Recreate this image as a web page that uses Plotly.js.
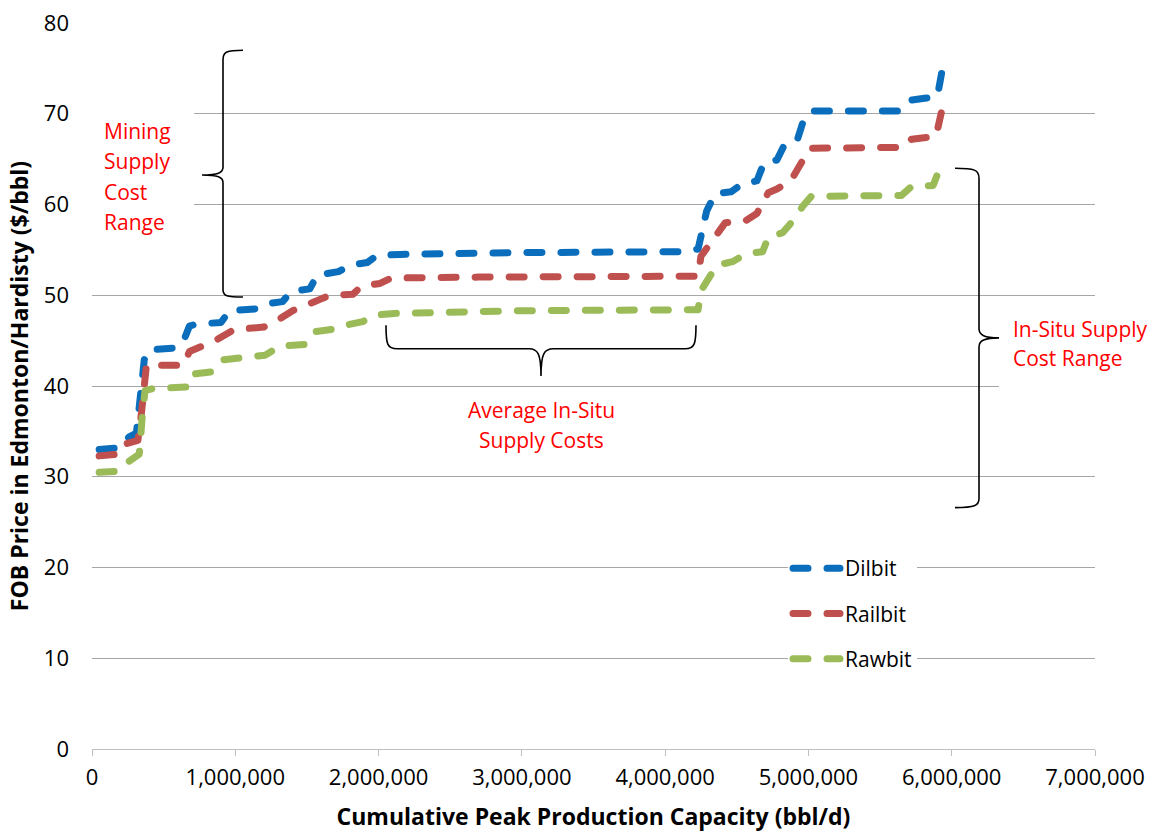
<!DOCTYPE html>
<html>
<head>
<meta charset="utf-8">
<script src="https://cdn.plot.ly/plotly-3.0.1.min.js"></script>
<style>
  html, body { margin: 0; padding: 0; background: #fff; }
  #chart { width: 1149px; height: 833px; }
  /* rounded dash ends, as in the original supply-cost curves */
  path.js-line { stroke-linecap: round; stroke-linejoin: round; }
</style>
</head>
<body>
<div id="chart"></div>
<script>
// Cumulative peak production capacity (bbl/d) and FOB price ($/bbl) per blend
const capacityDilbit = [50000, 190000, 220000, 260000, 310000, 340000, 365000, 400000, 590000, 640000, 680000, 720000, 900000, 960000, 1140000, 1200000, 1330000, 1390000, 1520000, 1570000, 1720000, 1800000, 1920000, 1990000, 2150000, 3000000, 4150000, 4230000, 4260000, 4290000, 4350000, 4460000, 4540000, 4640000, 4690000, 4780000, 4830000, 4920000, 4970000, 5020000, 5640000, 5720000, 5810000, 5900000, 5930000];
const priceDilbit = [33.0, 33.2, 33.8, 34.4, 34.8, 39.5, 42.9, 44.0, 44.2, 45.0, 46.6, 46.8, 47.0, 48.3, 48.5, 49.0, 49.3, 50.4, 50.7, 52.2, 52.6, 53.3, 53.6, 54.4, 54.5, 54.7, 54.8, 55.1, 57.5, 59.3, 61.2, 61.4, 62.3, 62.6, 64.6, 64.9, 66.5, 67.0, 69.5, 70.3, 70.3, 71.5, 71.7, 71.9, 74.5];

const capacityRailbit = [50000, 190000, 230000, 320000, 345000, 380000, 640000, 680000, 770000, 860000, 990000, 1200000, 1290000, 1400000, 1600000, 1660000, 1820000, 1880000, 2010000, 2090000, 2700000, 4200000, 4230000, 4250000, 4370000, 4420000, 4560000, 4640000, 4720000, 4780000, 4880000, 4930000, 5010000, 5660000, 5720000, 5890000, 5930000];
const priceRailbit = [32.3, 32.5, 33.6, 34.0, 37.0, 42.3, 42.3, 43.8, 44.4, 45.0, 46.2, 46.5, 47.2, 48.3, 49.6, 50.0, 50.1, 51.0, 51.3, 51.9, 52.0, 52.0, 52.1, 54.3, 56.9, 58.0, 58.2, 59.0, 61.3, 61.7, 62.7, 64.2, 66.2, 66.3, 67.2, 67.5, 70.3];

const capacityRawbit = [50000, 180000, 250000, 330000, 350000, 370000, 420000, 670000, 700000, 850000, 920000, 1050000, 1210000, 1310000, 1500000, 1560000, 1700000, 1770000, 1890000, 1970000, 2110000, 3000000, 4230000, 4250000, 4300000, 4360000, 4470000, 4570000, 4680000, 4720000, 4820000, 4870000, 4960000, 5020000, 5650000, 5720000, 5870000, 5930000];
const priceRawbit = [30.5, 30.6, 31.6, 32.5, 36.5, 39.5, 39.7, 39.9, 41.3, 41.6, 42.9, 43.1, 43.4, 44.4, 44.6, 46.0, 46.3, 46.7, 47.1, 47.8, 48.0, 48.3, 48.4, 50.5, 51.9, 53.3, 53.7, 54.6, 54.8, 56.4, 56.9, 57.8, 59.8, 60.9, 61.0, 62.0, 62.1, 64.5];

const seriesNames = ['Dilbit', 'Railbit', 'Rawbit'];
const seriesColors = ['#0A6EBD', '#C0504D', '#9BBB59'];

const xTicks = [0, 1000000, 2000000, 3000000, 4000000, 5000000, 6000000, 7000000];
const yTicks = [0, 10, 20, 30, 40, 50, 60, 70, 80];

const FONT = 'Open Sans, Noto Sans, Liberation Sans, sans-serif';
const RED = '#FF0000';

const xs = [capacityDilbit, capacityRailbit, capacityRawbit];
const ys = [priceDilbit, priceRailbit, priceRawbit];

const traces = seriesNames.map((name, i) => ({
  type: 'scatter',
  mode: 'lines',
  name: name,
  legendgroup: name,
  x: xs[i],
  y: ys[i],
  line: { color: seriesColors[i], width: 7, dash: '15px,19px' },
  hoverinfo: 'skip'
}));

// Curly brace outlines, in data coordinates
const braceMining = 'M 1053800,77.0 C 940000,77.0 914300,76.8 914300,76.0 ' +
  'L 914300,64.1 C 914300,63.5 880000,63.25 767700,63.25 ' +
  'C 880000,63.25 914300,63.0 914300,62.4 L 914300,50.6 ' +
  'C 914300,49.9 940000,49.8 1053800,49.8';
const braceAverage = 'M 2051800,46.7 C 2051800,44.6 2060000,44.1 2130000,44.1 ' +
  'L 3050000,44.1 C 3110000,44.1 3133600,43.6 3133600,41.1 ' +
  'C 3133600,43.6 3157000,44.1 3220000,44.1 L 4140000,44.1 ' +
  'C 4205000,44.1 4215300,44.6 4215300,46.7';
const braceInSitu = 'M 6022900,64.0 C 6160000,64.0 6190400,63.8 6190400,62.9 ' +
  'L 6190400,46.3 C 6190400,45.6 6230000,45.3 6330000,45.3 ' +
  'C 6230000,45.3 6190400,45.0 6190400,44.3 L 6190400,27.6 ' +
  'C 6190400,26.8 6160000,26.6 6022900,26.6';

const braceLine = { color: '#000000', width: 1.6 };

const shapes = [
  // white backdrops behind the note boxes (hide the gridlines there)
  { type: 'rect', xref: 'paper', yref: 'paper', x0: -0.01, x1: 0.1017, y0: 0.687, y1: 0.894,
    fillcolor: '#ffffff', line: { width: 0 }, layer: 'above' },
  { type: 'rect', xref: 'paper', yref: 'paper', x0: 0.9043, x1: 1.06, y0: 0.4876, y1: 0.5978,
    fillcolor: '#ffffff', line: { width: 0 }, layer: 'above' },
  { type: 'path', xref: 'x', yref: 'y', path: braceMining, line: braceLine, layer: 'above' },
  { type: 'path', xref: 'x', yref: 'y', path: braceAverage, line: braceLine, layer: 'above' },
  { type: 'path', xref: 'x', yref: 'y', path: braceInSitu, line: braceLine, layer: 'above' }
];

// note text, one annotation per line (pixel positions converted to paper fractions)
function note(text, px, py, anchor) {
  return {
    text: text, xref: 'paper', yref: 'paper',
    x: (px - 92) / 1003, y: (749 - py) / 726,
    xanchor: anchor, yanchor: 'middle', showarrow: false,
    font: { family: FONT, size: 21, color: RED }
  };
}

const annotations = [
  note('Mining', 102, 131, 'left'),
  note('Supply', 102, 161, 'left'),
  note('Cost', 102, 192, 'left'),
  note('Range', 102, 222, 'left'),
  note('Average In-Situ', 541, 410, 'center'),
  note('Supply Costs', 541, 440, 'center'),
  note('In-Situ Supply', 1011, 329, 'left'),
  note('Cost Range', 1011, 358, 'left')
];

const layout = {
  width: 1149,
  height: 833,
  margin: { l: 92, r: 54, t: 23, b: 84 },
  paper_bgcolor: '#ffffff',
  plot_bgcolor: '#ffffff',
  font: { family: FONT, size: 20, color: '#000000' },
  showlegend: true,
  legend: {
    x: (788 - 92) / 1003, y: (749 - 548) / 726,
    xanchor: 'left', yanchor: 'top',
    bgcolor: '#ffffff', borderwidth: 0,
    font: { family: FONT, size: 21, color: '#000000' },
    traceorder: 'grouped', tracegroupgap: 15,
    itemwidth: 47
  },
  xaxis: {
    range: [0, 7000000],
    tickvals: xTicks,
    tickformat: ',d',
    showgrid: false,
    zeroline: false,
    showline: true,
    linecolor: '#BFBFBF',
    linewidth: 1,
    ticks: 'outside',
    ticklen: 6,
    tickcolor: '#BFBFBF',
    ticklabelstandoff: 3,
    tickfont: { family: FONT, size: 22, color: '#000000' },
    title: { text: 'Cumulative Peak Production Capacity (bbl/d)',
             font: { family: FONT, size: 23, color: '#000000', weight: 'bold' }, standoff: 18 },
    fixedrange: true
  },
  yaxis: {
    range: [0, 80],
    tickvals: yTicks,
    showgrid: true,
    gridcolor: '#A6A6A6',
    gridwidth: 1,
    zeroline: false,
    showline: false,
    ticks: '',
    ticklabelstandoff: 22,
    tickfont: { family: FONT, size: 22, color: '#000000' },
    title: { text: 'FOB Price in Edmonton/Hardisty ($/bbl)',
             font: { family: FONT, size: 23, color: '#000000', weight: 'bold' }, standoff: 8 },
    fixedrange: true
  },
  shapes: shapes,
  annotations: annotations
};

Plotly.newPlot('chart', traces, layout, { displayModeBar: false, staticPlot: true });
</script>
</body>
</html>
